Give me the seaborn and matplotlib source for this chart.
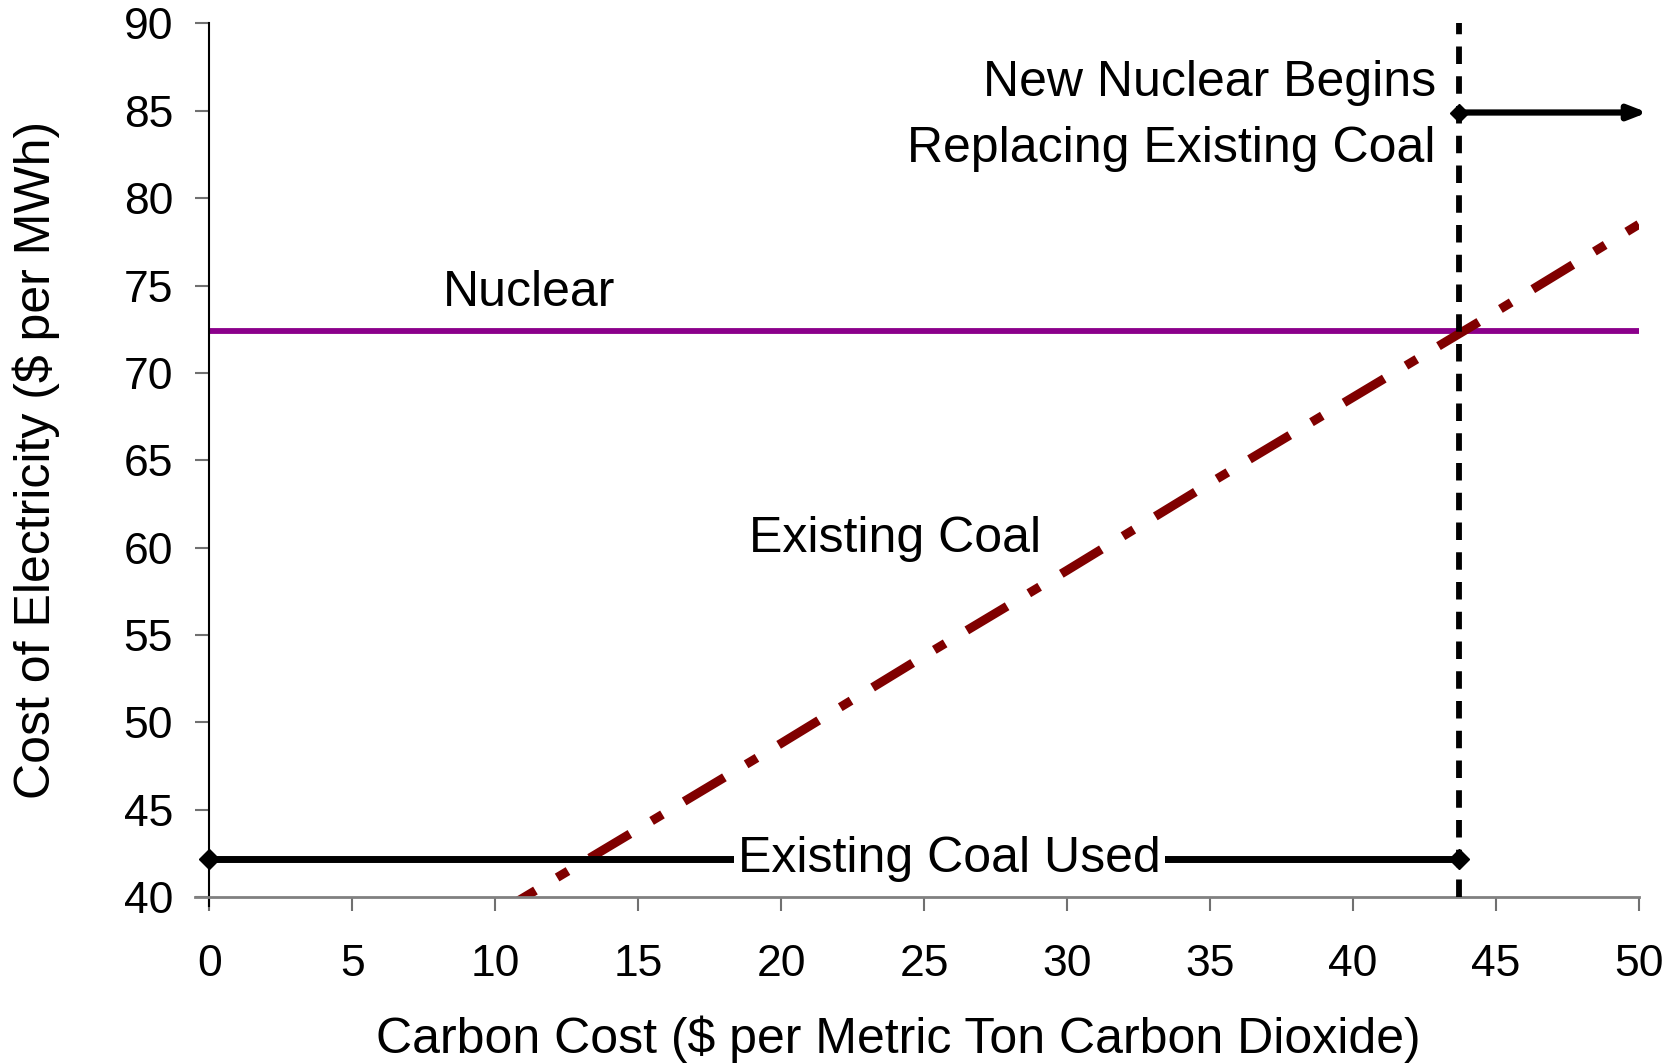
import matplotlib
matplotlib.use("Agg")
import matplotlib.pyplot as plt
import seaborn as sns
import pandas as pd

# Cost of electricity vs. carbon price
carbon_cost = [10, 15, 20, 25, 30, 35, 40, 45, 50]
coal_cost = [39.0, 43.9, 48.8, 53.8, 58.7, 63.7, 68.6, 73.5, 78.5]
nuclear_x = [0, 50]
nuclear_cost = [72.4, 72.4]
crossover = 43.7
coal_used_level = 42.2
replace_level = 84.9

x_ticks = list(range(0, 55, 5))
y_ticks = list(range(40, 95, 5))

sns.set_theme(style="white")
plt.rcParams["font.family"] = ["Liberation Sans", "DejaVu Sans"]
plt.rcParams["text.color"] = "black"
plt.rcParams["axes.labelcolor"] = "black"
plt.rcParams["xtick.color"] = "black"
plt.rcParams["ytick.color"] = "black"

fig = plt.figure(figsize=(16.74, 10.63), dpi=100)
ax = fig.add_axes([0.125, 0.156, 0.854, 0.822])

coal_df = pd.DataFrame({"x": carbon_cost, "y": coal_cost})
nuc_df = pd.DataFrame({"x": nuclear_x, "y": nuclear_cost})

sns.lineplot(data=nuc_df, x="x", y="y", ax=ax, color="#8B008B", linewidth=4.2)
coal_line = sns.lineplot(data=coal_df, x="x", y="y", ax=ax, color="#800000",
                         linewidth=6.5).lines[-1]
coal_line.set_dashes([5.2, 2.8, 1.4, 2.8])
coal_line.set_dash_capstyle("butt")

ax.plot([crossover, crossover], [40, 90], color="black", linewidth=4.2,
        dashes=(3.0, 2.1), clip_on=False, zorder=5)

# "Existing Coal Used" span
ax.plot([0, crossover], [coal_used_level, coal_used_level], color="black",
        linewidth=5, marker="D", markersize=10, clip_on=False, zorder=6)
ax.text(25.9, coal_used_level, "Existing Coal Used", fontsize=36,
        ha="center", va="center", zorder=7,
        bbox=dict(facecolor="white", edgecolor="none", pad=3))

# Replacement arrow
ax.plot([crossover], [replace_level], color="black", marker="D", markersize=9,
        zorder=6, clip_on=False)
ax.annotate("", xy=(50.3, replace_level), xytext=(crossover, replace_level),
            arrowprops=dict(arrowstyle="-|>,head_length=0.9,head_width=0.35",
                            color="black", lw=4.5, shrinkA=0, shrinkB=0),
            annotation_clip=False, zorder=6)

ax.text(42.9, 86.6, "New Nuclear Begins", fontsize=36, ha="right", va="center")
ax.text(42.9, 82.8, "Replacing Existing Coal", fontsize=36, ha="right", va="center")
ax.text(11.2, 74.6, "Nuclear", fontsize=36, ha="center", va="center")
ax.text(24.0, 60.5, "Existing Coal", fontsize=36, ha="center", va="center")

ax.set_xlim(0, 50)
ax.set_ylim(40, 90)
ax.set_xticks(x_ticks)
ax.set_yticks(y_ticks)
ax.tick_params(axis="both", labelsize=32, length=10, width=1.5,
               color="#707070", labelcolor="black", direction="out",
               bottom=True, left=True)
ax.tick_params(axis="x", pad=24)
ax.tick_params(axis="y", pad=16)
ax.set_xlabel("Carbon Cost ($ per Metric Ton Carbon Dioxide)", fontsize=36, labelpad=20)
ax.xaxis.set_label_coords(0.482, -0.135)
ax.set_ylabel("Cost of Electricity ($ per MWh)", fontsize=36, labelpad=46)

sns.despine(ax=ax)
ax.spines["left"].set_color("black")
ax.spines["left"].set_linewidth(1.5)
ax.spines["bottom"].set_color("#808080")
ax.spines["bottom"].set_linewidth(2)
ax.spines["bottom"].set_bounds(-0.5, 50)
ax.spines["left"].set_bounds(39.5, 90)

fig.savefig("out.png", dpi=100)
